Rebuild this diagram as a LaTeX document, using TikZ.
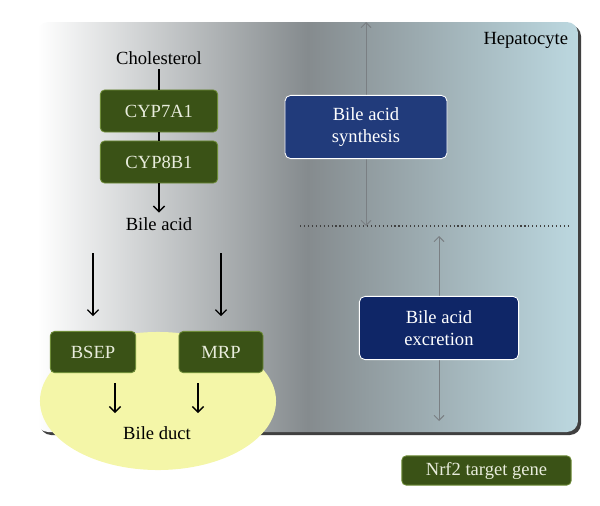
\documentclass[tikz,border=0pt]{standalone}
\usepackage{fontspec}
\setmainfont{Liberation Serif}
\usetikzlibrary{shapes.geometric, arrows.meta}

\definecolor{genegreen}{HTML}{3A5216}
\definecolor{geneedge}{HTML}{6E8C38}
\definecolor{genetext}{HTML}{E8ECDC}
\definecolor{synthblue}{HTML}{213B7B}
\definecolor{excrblue}{HTML}{0F2667}
\definecolor{cellgrey}{HTML}{858B8E}
\definecolor{cellblue}{HTML}{BCD8E0}
\definecolor{ductyellow}{HTML}{F4F6A8}
\definecolor{linkgrey}{HTML}{7A7F83}

\tikzset{
  gene/.style={rectangle, rounded corners=3pt, fill=genegreen, draw=geneedge,
    line width=0.6pt, text=genetext},
  process/.style={rectangle, rounded corners=4pt, draw=white, line width=0.6pt,
    text=white, align=center, minimum width=4.05cm, minimum height=1.58cm},
  flow/.style={-{Straight Barb[length=4pt, width=8pt]}, line width=0.9pt},
  link/.style={{Straight Barb[length=3.5pt, width=7pt]}-{Straight Barb[length=3.5pt, width=7pt]},
    draw=linkgrey, line width=0.7pt}
}

\begin{document}
\begin{tikzpicture}[x=0.025cm, y=-0.025cm, font=\fontsize{13.2}{16}\selectfont]
 \useasboundingbox (0,0) rectangle (600,506);

 % hepatocyte
 \fill[black!75, rounded corners=8pt] (40,25) rectangle (581,435);
 \shade[left color=white, right color=cellblue, middle color=cellgrey,
   rounded corners=8pt] (37,22) rectangle (578,432);
 \node (hep) [anchor=east] at (573,40) {Hepatocyte};

 % bile duct
 \node (duct) [ellipse, fill=ductyellow, minimum width=5.9cm, minimum height=3.45cm]
   at (158,401) {};

 % synthesis pathway
 \node (chol) at (159,58) {Cholesterol};
 \node (cyp7) [gene, minimum width=2.93cm, minimum height=1.05cm] at (159,111) {CYP7A1};
 \node (cyp8) [gene, minimum width=2.93cm, minimum height=1.05cm] at (159,162) {CYP8B1};
 \node (bile) at (159,224) {Bile acid};
 \draw[line width=0.9pt] (chol) -- (cyp7);
 \draw[line width=0.9pt] (cyp7) -- (cyp8);
 \draw[flow] (cyp8) -- (bile);

 % transporters
 \node (bsep) [gene, minimum width=2.13cm, minimum height=1.03cm] at (93,352) {BSEP};
 \node (mrp) [gene, minimum width=2.1cm, minimum height=1.03cm] at (221,352) {MRP};
 \coordinate (bsepin) at (93,253);
 \coordinate (mrpin) at (221,253);
 \draw[flow, shorten >=10.5pt] (bsepin) -- (bsep);
 \draw[flow, shorten >=10.5pt] (mrpin) -- (mrp);
 \coordinate (bsepout) at (115,383);
 \coordinate (bsepend) at (115,413);
 \coordinate (mrpout) at (198,383);
 \coordinate (mrpend) at (198,413);
 \draw[flow] (bsepout) -- (bsepend);
 \draw[flow] (mrpout) -- (mrpend);
 \node (ductlbl) at (157,433) {Bile duct};

 % processes
 \coordinate (syntop) at (366,22);
 \coordinate (synbot) at (366,226);
 \coordinate (exctop) at (439,236);
 \coordinate (excbot) at (439,421);
 \coordinate (sepl) at (300,226);
 \coordinate (sepr) at (568,226);
 \draw[link] (syntop) -- (synbot);
 \draw[link] (exctop) -- (excbot);
 \draw[dotted, line width=0.8pt, black!75] (sepl) -- (sepr);
 \node (synth) [process, fill=synthblue] at (366,127) {Bile acid\\synthesis};
 \node (excr) [process, fill=excrblue, minimum width=3.98cm] at (439,328) {Bile acid\\excretion};

 % legend
 \node (legend) [gene, minimum width=4.23cm, minimum height=0.73cm] at (486.5,470.5) {Nrf2 target gene};
\end{tikzpicture}
\end{document}
